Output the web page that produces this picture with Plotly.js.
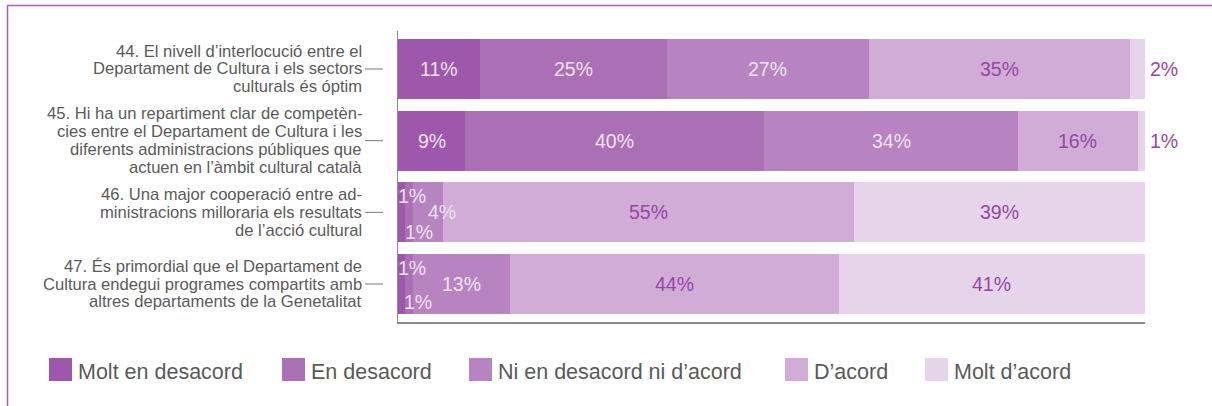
<!DOCTYPE html>
<html>
<head>
<meta charset="utf-8">
<script src="https://cdn.plot.ly/plotly-3.0.1.min.js"></script>
<style>
html,body{margin:0;padding:0;background:#fff;}
#chart{width:1212px;height:406px;}
</style>
</head>
<body>
<div id="chart"></div>
<script>
// ---- Data ----
const categories = [
  "44. El nivell d’interlocució entre el<br>Departament de Cultura i els sectors<br>culturals és óptim",
  "45. Hi ha un repartiment clar de competèn-<br>cies entre el Departament de Cultura i les<br>diferents administracions públiques que<br>actuen en l’àmbit cultural català",
  "46. Una major cooperació entre ad-<br>ministracions milloraria els resultats<br>de l’acció cultural",
  "47. És primordial que el Departament de<br>Cultura endegui programes compartits amb<br>altres departaments de la Genetalitat"
];
const seriesNames = ["Molt en desacord", "En desacord", "Ni en desacord ni d’acord", "D’acord", "Molt d’acord"];
const moltEnDesacord = [11, 9, 1, 1];
const enDesacord = [25, 40, 1, 1];
const niEnDesacordNiDacord = [27, 34, 4, 13];
const dAcord = [35, 16, 55, 44];
const moltDacord = [2, 1, 39, 41];

const seriesValues = [moltEnDesacord, enDesacord, niEnDesacordNiDacord, dAcord, moltDacord];
const seriesColors = ["#9d58ab", "#ab6fb5", "#b784c1", "#d0acd6", "#e6d5ea"];

// ---- Geometry helpers ----
const W = 1212, H = 406;
const M = {l: 398, r: 67, t: 31, b: 84};
const PW = W - M.l - M.r, PH = H - M.t - M.b;
const X = px => (px - M.l) / PW;
const Y = py => (H - M.b - py) / PH;

const yIdx = categories.map((c, i) => i);

const traces = seriesValues.map((vals, k) => ({
  type: "bar",
  orientation: "h",
  name: seriesNames[k],
  y: yIdx,
  x: vals,
  width: 0.837,
  marker: {color: seriesColors[k], line: {width: 0}},
  hoverinfo: "skip",
  showlegend: false
}));

const annotations = [];
const shapes = [];

// category labels, one annotation per line
const LINE = 17.8;
categories.forEach((cat, i) => {
  const lines = cat.split("<br>");
  const n = lines.length;
  lines.forEach((ln, j) => {
    annotations.push({
      xref: "paper", yref: "y", x: X(363), y: i,
      xanchor: "right", yanchor: "middle",
      yshift: -((j - (n - 1) / 2) * LINE),
      text: ln, showarrow: false, borderpad: 0,
      font: {family: "Liberation Sans, Arial, sans-serif", size: 16.6, color: "#5a5a5a"}
    });
  });
  shapes.push({
    type: "line", xref: "paper", yref: "y",
    x0: X(365), x1: X(383), y0: i, y1: i,
    line: {color: "#777777", width: 1}
  });
});

// bar value labels
const WHITE = "#ede3ef", PURPLE = "#9646a6";
const offsets = {
  "2-0": {dx: 10, dy: 16}, "2-1": {dx: 10, dy: -20}, "2-2": {dx: 14, dy: 0},
  "3-0": {dx: 10, dy: 16}, "3-1": {dx: 9, dy: -18}
};
categories.forEach((cat, i) => {
  let cum = 0;
  seriesValues.forEach((vals, k) => {
    const v = vals[i];
    const a = {
      xref: "x", yref: "y", y: i, showarrow: false,
      text: v + "%", xanchor: "center", yanchor: "middle",
      font: {family: "Liberation Sans, Arial, sans-serif", size: 19.5, color: k >= 3 ? PURPLE : WHITE}
    };
    if (k === 4 && v < 3) {
      a.x = cum + v; a.xanchor = "left"; a.xshift = 3;
      a.font.color = PURPLE;
    } else {
      a.x = cum + v / 2;
      const o = offsets[i + "-" + k];
      if (o) { a.xshift = o.dx; a.yshift = o.dy; }
    }
    annotations.push(a);
    cum += v;
  });
});

// legend (manual)
const legendSquareX = [49, 282, 469, 785, 925];
seriesNames.forEach((nm, k) => {
  const x0 = legendSquareX[k];
  shapes.push({
    type: "rect", xref: "paper", yref: "paper",
    x0: X(x0), x1: X(x0 + 23), y0: Y(381), y1: Y(358),
    fillcolor: seriesColors[k], line: {width: 0}
  });
  annotations.push({
    xref: "paper", yref: "paper", x: X(x0 + 27), y: Y(372),
    xanchor: "left", yanchor: "middle", showarrow: false,
    text: nm,
    font: {family: "Liberation Sans, Arial, sans-serif", size: 21.5, color: "#5a5a5a"}
  });
});

// frame
shapes.push({type: "line", xref: "paper", yref: "paper", x0: X(7), x1: X(1212), y0: Y(5.5), y1: Y(5.5), line: {color: "#a660b2", width: 1.5}});
shapes.push({type: "line", xref: "paper", yref: "paper", x0: X(7.5), x1: X(7.5), y0: Y(5), y1: Y(406), line: {color: "#a660b2", width: 1.5}});

const layout = {
  width: W, height: H,
  margin: M,
  paper_bgcolor: "#ffffff", plot_bgcolor: "#ffffff",
  barmode: "stack",
  showlegend: false,
  xaxis: {range: [0, 100], showgrid: false, zeroline: false, showticklabels: false, ticks: "",
          showline: true, linecolor: "#8a8a8a", linewidth: 2, fixedrange: true},
  yaxis: {range: [3.53, -0.53], showgrid: false, zeroline: false, showticklabels: false, ticks: "",
          showline: true, linecolor: "#8a8a8a", linewidth: 1.5, fixedrange: true},
  annotations: annotations,
  shapes: shapes
};

Plotly.newPlot("chart", traces, layout, {staticPlot: true, displayModeBar: false});
</script>
</body>
</html>
